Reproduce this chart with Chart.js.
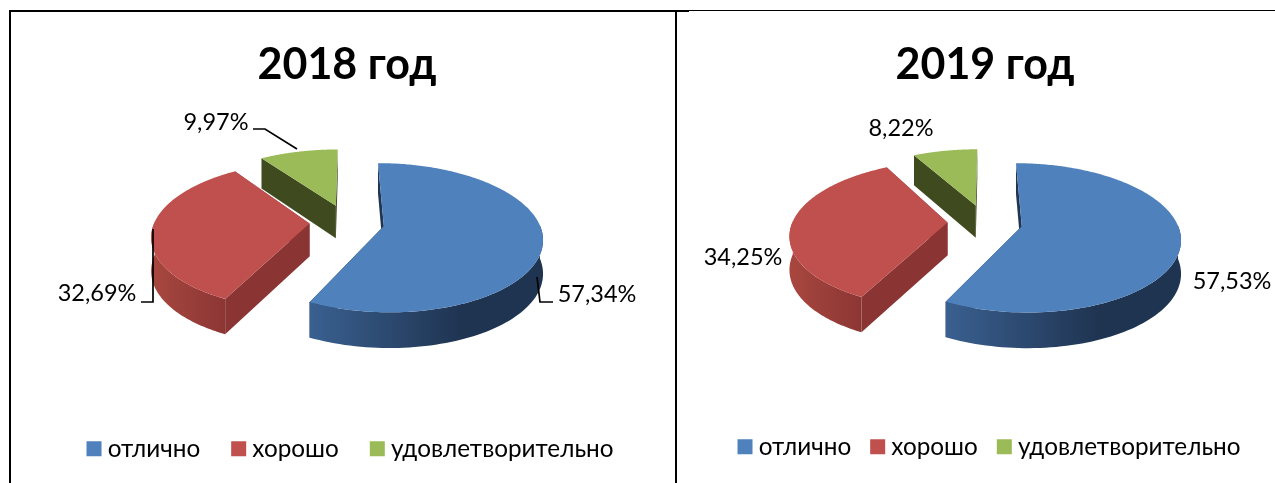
<!DOCTYPE html>
<html>
<head>
<meta charset="utf-8">
<script src="https://cdn.jsdelivr.net/npm/chart.js@4"></script>
<style>
    html, body { margin: 0; padding: 0; background: #fff; overflow: hidden; }
    body { position: relative; width: 1275px; height: 483px; }
    canvas { position: absolute; top: 0; }
    .rule { position: absolute; background: #000; }
</style>
</head>
<body>
<div class="rule" style="left:9px;top:10px;width:680px;height:2px"></div>
<div class="rule" style="left:689px;top:10px;width:586px;height:1px"></div>
<div class="rule" style="left:9px;top:10px;width:2px;height:473px"></div>
<div class="rule" style="left:675px;top:10px;width:2px;height:473px"></div>
<canvas id="chart2018" width="694" height="483" style="left:0"></canvas>
<canvas id="chart2019" width="580" height="483" style="left:695px"></canvas>
<script>
const categories = ['отлично', 'хорошо', 'удовлетворительно'];
const values2018 = [57.34, 32.69, 9.97];
const values2019 = [57.53, 34.25, 8.22];

const topColors = ['#4f81bd', '#c0504d', '#9bbb59'];
const cutColors = ['#1f3552', '#8a3533', '#3f4a1f'];
const wallColors = [['#3a6090', '#1f3451'], ['#a8473f', '#8c3634'], ['#4a5a25', '#3f4a1f']];

// label x, y (centre of the text) and the leader line, if it has one
const labels2018 = [
    { x: 597, y: 294, line: [[553, 302], [540, 302], [537, 277]] },
    { x: 97, y: 293, line: [[141, 302], [153, 302], [153, 229]] },
    { x: 216, y: 122, line: [[253, 129], [265, 129], [297, 149]] }
];
const labels2019 = [
    { x: 1232, y: 281 },
    { x: 743, y: 257 },
    { x: 901, y: 128 }
];

const fontName = 'Lato';

// Maps a point of the flat pie to the tilted picture
function placePoint(arc, x, y, opts, drop) {
    const mid = (arc.startAngle + arc.endAngle) / 2;
    const ux = x - arc.x + Math.cos(mid) * opts.explode;
    const uy = y - arc.y + Math.sin(mid) * opts.explode;
    const s = 1 + opts.perspective * uy / arc.outerRadius;
    return {
        x: arc.x + ux * s,
        y: opts.centerY + uy * opts.squash * s + drop * Math.sqrt(s)
    };
}

function rimPoint(arc, angle, opts, drop) {
    const x = arc.x + Math.cos(angle) * arc.outerRadius;
    const y = arc.y + Math.sin(angle) * arc.outerRadius;
    return placePoint(arc, x, y, opts, drop);
}

function fillPolygon(ctx, points, fill) {
    ctx.beginPath();
    points.forEach((p, i) => (i ? ctx.lineTo(p.x, p.y) : ctx.moveTo(p.x, p.y)));
    ctx.closePath();
    ctx.fillStyle = fill;
    ctx.fill();
}

// Draws the side faces of one slice, below the flat top that the library draws
function drawSides(ctx, arc, index, opts) {
    [arc.startAngle, arc.endAngle].forEach(a => {
        fillPolygon(ctx, [
            placePoint(arc, arc.x, arc.y, opts, 0),
            rimPoint(arc, a, opts, 0),
            rimPoint(arc, a, opts, opts.depth),
            placePoint(arc, arc.x, arc.y, opts, opts.depth)
        ], cutColors[index]);
    });
    const angles = [];
    for (let i = 0; i <= 120; i++) {
        const a = arc.startAngle + (arc.endAngle - arc.startAngle) * i / 120;
        if (Math.sin(a) > -0.03) angles.push(a);
    }
    if (angles.length > 1) {
        const upper = angles.map(a => rimPoint(arc, a, opts, 0));
        const lower = angles.map(a => rimPoint(arc, a, opts, opts.depth)).reverse();
        const xs = upper.map(p => p.x);
        const left = Math.min(...xs);
        const right = Math.max(...xs);
        const gradient = ctx.createLinearGradient(left, 0, right, 0);
        const colors = wallColors[index];
        gradient.addColorStop(0, colors[0]);
        gradient.addColorStop(index === 0 ? 0.65 : 1, colors[1]);
        gradient.addColorStop(1, colors[1]);
        fillPolygon(ctx, upper.concat(lower), gradient);
    }
}

// Lets the arc element draw itself while its path goes through placePoint
function drawTop(ctx, arc, opts) {
    const proto = CanvasRenderingContext2D.prototype;
    ctx.moveTo = (x, y) => {
        const p = placePoint(arc, x, y, opts, 0);
        proto.moveTo.call(ctx, p.x, p.y);
    };
    ctx.lineTo = (x, y) => {
        const p = placePoint(arc, x, y, opts, 0);
        proto.lineTo.call(ctx, p.x, p.y);
    };
    ctx.arc = (x, y, r, from, to, back) => {
        let sweep = to - from;
        if (back && sweep > 0) sweep -= Math.PI * 2;
        for (let i = 0; i <= 120; i++) {
            const a = from + sweep * i / 120;
            ctx.lineTo(x + Math.cos(a) * r, y + Math.sin(a) * r);
        }
    };
    arc.draw(ctx);
    delete ctx.moveTo;
    delete ctx.lineTo;
    delete ctx.arc;
}

const tiltedPie = {
    id: 'tiltedPie',
    afterLayout(chart, args, opts) {
        chart.legend.left += opts.legendShift;
        chart.legend.right += opts.legendShift;
    },
    beforeDatasetsDraw(chart, args, opts) {
        const ctx = chart.ctx;
        const arcs = chart.getDatasetMeta(0).data;
        arcs.forEach((arc, i) => drawSides(ctx, arc, i, opts));
        arcs.forEach(arc => drawTop(ctx, arc, opts));

        // Percent labels with their leader lines
        const shift = chart.canvas.offsetLeft;
        const values = chart.data.datasets[0].data;
        ctx.save();
        ctx.font = opts.labelFont;
        ctx.fillStyle = '#000';
        ctx.strokeStyle = '#000';
        ctx.lineWidth = 1.7;
        ctx.textAlign = 'center';
        ctx.textBaseline = 'middle';
        opts.labels.forEach((label, i) => {
            const text = values[i].toFixed(2).replace('.', ',') + '%';
            ctx.fillText(text, label.x - shift, label.y);
            if (label.line) {
                ctx.beginPath();
                label.line.forEach((p, j) => {
                    if (j) ctx.lineTo(p[0] - shift, p[1]);
                    else ctx.moveTo(p[0] - shift, p[1]);
                });
                ctx.stroke();
            }
        });
        ctx.restore();
        return false;
    }
};

function makeChart(id, year, values, labels, legendShift, legendGap, legendBottom) {
    return new Chart(document.getElementById(id), {
        type: 'pie',
        data: {
            labels: categories,
            datasets: [{
                data: values,
                backgroundColor: topColors,
                borderWidth: 0
            }]
        },
        plugins: [tiltedPie],
        options: {
            responsive: false,
            animation: false,
            radius: 155,
            layout: { padding: { top: 39, bottom: legendBottom } },
            plugins: {
                title: {
                    display: true,
                    text: year,
                    color: '#000',
                    font: { family: fontName, size: 43, weight: 'bold' },
                    padding: 0
                },
                legend: {
                    position: 'bottom',
                    labels: {
                        color: '#000',
                        font: { family: fontName, size: 24.3 },
                        usePointStyle: true,
                        pointStyle: 'rect',
                        boxWidth: 3,
                        boxHeight: 15,
                        padding: legendGap
                    }
                },
                tooltip: { enabled: false },
                tiltedPie: {
                    centerY: 222,
                    squash: 0.473,
                    perspective: 0.159,
                    explode: 37.5,
                    depth: 33,
                    labelFont: '23.5px ' + fontName,
                    labels: labels,
                    legendShift: legendShift
                }
            }
        }
    });
}

makeChart('chart2018', '2018 год', values2018, labels2018, 6, 37, 12);
makeChart('chart2019', '2019 год', values2019, labels2019, 7, 25, 14);
</script>
</body>
</html>
